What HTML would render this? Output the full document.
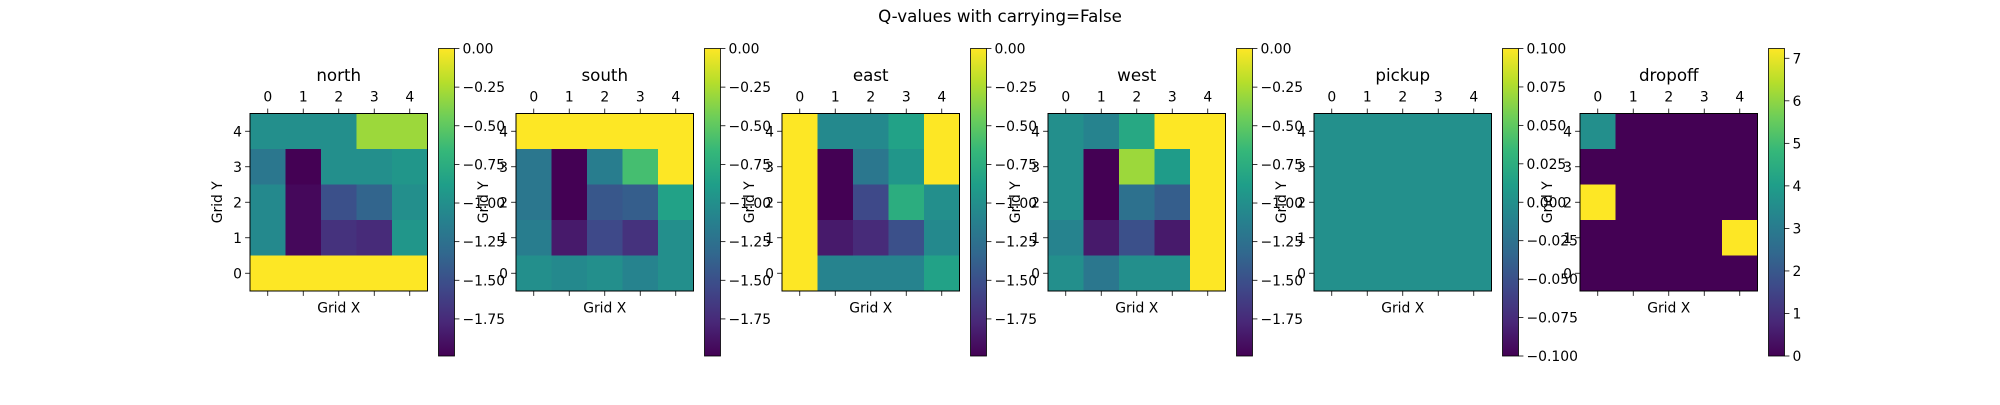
<!DOCTYPE html>
<html><head><meta charset="utf-8">
<style>
html,body{margin:0;padding:0;background:#fff;}
svg text{font-family:"DejaVu Sans","Liberation Sans",sans-serif;fill:#000;}
</style></head>
<body>
<svg id="fig" width="2000" height="400" viewBox="0 0 2000 400" xmlns="http://www.w3.org/2000/svg">
<rect width="2000" height="400" fill="#fff"/>
<text x="1000" y="22" font-size="16.7" text-anchor="middle">Q-values with carrying=False</text>
<defs id="defs"></defs>
</svg>
<script>
// Data: rows listed from Grid Y = 4 (top) down to Grid Y = 0
const panelTitles = ["north","south","east","west","pickup","dropoff"];
const gridTicks = [0,1,2,3,4];
const northVals = [
 [-1.0,-1.0,-1.0,-0.3,-0.3],
 [-1.2,-1.99,-1.0,-1.0,-0.95],
 [-1.05,-1.95,-1.5,-1.35,-1.0],
 [-1.05,-1.95,-1.7,-1.75,-0.95],
 [0,0,0,0,0]];
const southVals = [
 [0,0,0,0,0],
 [-1.2,-1.99,-1.15,-0.6,0],
 [-1.2,-1.99,-1.45,-1.4,-0.85],
 [-1.15,-1.85,-1.55,-1.7,-1.0],
 [-1.0,-1.05,-1.0,-1.1,-1.0]];
const eastVals = [
 [0,-1.05,-1.05,-0.85,0],
 [0,-1.99,-1.2,-0.95,0],
 [0,-1.99,-1.55,-0.75,-1.0],
 [0,-1.85,-1.75,-1.5,-1.05],
 [0,-1.1,-1.1,-1.1,-0.85]];
const westVals = [
 [-1.0,-1.1,-0.8,0,0],
 [-1.0,-1.99,-0.3,-0.9,0],
 [-1.0,-1.99,-1.25,-1.4,0],
 [-1.1,-1.85,-1.5,-1.85,0],
 [-1.0,-1.2,-1.0,-1.0,0]];
const pickupVals = [
 [0,0,0,0,0],[0,0,0,0,0],[0,0,0,0,0],[0,0,0,0,0],[0,0,0,0,0]];
const dropoffVals = [
 [3.6,0,0,0,0],
 [0,0,0,0,0],
 [7.23,0,0,0,0],
 [0,0,0,0,7.23],
 [0,0,0,0,0]];
const qTicks = [0,-0.25,-0.5,-0.75,-1.0,-1.25,-1.5,-1.75];
const qTickLabels = ["0.00","−0.25","−0.50","−0.75","−1.00","−1.25","−1.50","−1.75"];
const pickupTicks = [0.1,0.075,0.05,0.025,0,-0.025,-0.05,-0.075,-0.1];
const pickupTickLabels = ["0.100","0.075","0.050","0.025","0.000","−0.025","−0.050","−0.075","−0.100"];
const dropTicks = [0,1,2,3,4,5,6,7];
const dropTickLabels = ["0","1","2","3","4","5","6","7"];

const panels = [
 {vals:northVals,vmin:-1.99,vmax:0,ticks:qTicks,labels:qTickLabels},
 {vals:southVals,vmin:-1.99,vmax:0,ticks:qTicks,labels:qTickLabels},
 {vals:eastVals,vmin:-1.99,vmax:0,ticks:qTicks,labels:qTickLabels},
 {vals:westVals,vmin:-1.99,vmax:0,ticks:qTicks,labels:qTickLabels},
 {vals:pickupVals,vmin:-0.1,vmax:0.1,ticks:pickupTicks,labels:pickupTickLabels},
 {vals:dropoffVals,vmin:0,vmax:7.23,ticks:dropTicks,labels:dropTickLabels}
];

const VIR=["#440154","#482878","#3e4989","#31688e","#26828e","#1f9e89","#35b779","#6ece58","#b5de2b","#fde725"];
function hex(h){return [1,3,5].map(i=>parseInt(h.substr(i,2),16));}
function viridis(t){t=Math.max(0,Math.min(1,t));const p=t*(VIR.length-1);const i=Math.min(VIR.length-2,Math.floor(p));const f=p-i;const a=hex(VIR[i]),b=hex(VIR[i+1]);return "rgb("+a.map((v,k)=>Math.round(v+(b[k]-v)*f)).join(",")+")";}

const NS="http://www.w3.org/2000/svg";
const svg=document.getElementById('fig');
const defs=document.getElementById('defs');
function mk(tag,attrs,parent){const e=document.createElementNS(NS,tag);for(const k in attrs)e.setAttribute(k,attrs[k]);(parent||svg).appendChild(e);return e;}

const g=mk('linearGradient',{id:'vir',x1:0,y1:1,x2:0,y2:0},defs);
VIR.forEach((c,i)=>mk('stop',{offset:(i/(VIR.length-1)),'stop-color':c},g));

const AX_TOP=113.5, AX_SIZE=177.5, CB_TOP=48.5, CB_BOT=356, CB_W=16;
panels.forEach((p,pi)=>{
  const L=250+266*pi;
  const grp=mk('g',{});
  
  
  const cell=AX_SIZE/5;
  const xPos=i=>L+(i+0.5)*cell;
  const yPos=j=>AX_TOP+(4-j+0.5)*cell;
  p.vals.forEach((row,r)=>row.forEach((v,c)=>{
    const gy=4-r;
    const rc=mk('rect',{x:xPos(c)-cell/2,y:yPos(gy)-cell/2,width:cell+0.3,height:cell+0.3,fill:viridis((v-p.vmin)/(p.vmax-p.vmin))},grp);
    
    
  }));
  const fr=mk('rect',{x:L,y:AX_TOP,width:AX_SIZE,height:AX_SIZE,fill:'none',stroke:'#000','stroke-width':1},grp);
  
  
  gridTicks.forEach(t=>{
    mk('line',{x1:xPos(t),x2:xPos(t),y1:AX_TOP,y2:AX_TOP-4.9,stroke:'#000','stroke-width':0.8},grp);
    mk('line',{x1:xPos(t),x2:xPos(t),y1:AX_TOP+AX_SIZE,y2:AX_TOP+AX_SIZE+4.9,stroke:'#000','stroke-width':0.8},grp);
    const tx=mk('text',{x:xPos(t),y:AX_TOP-12,'font-size':13.9,'text-anchor':'middle'},grp);tx.textContent=t;
    
    
    mk('line',{x1:L,x2:L-4.9,y1:yPos(t),y2:yPos(t),stroke:'#000','stroke-width':0.8},grp);
    const ty=mk('text',{x:L-8,y:yPos(t)+5,'font-size':13.9,'text-anchor':'end'},grp);ty.textContent=t;
    
    
  });
  const ti=mk('text',{x:L+AX_SIZE/2,y:81,'font-size':16.7,'text-anchor':'middle'},grp);ti.textContent=panelTitles[pi];
  
  
  const xl=mk('text',{x:L+AX_SIZE/2,y:312.5,'font-size':13.9,'text-anchor':'middle'},grp);xl.textContent='Grid X';
  
  
  const yl=mk('text',{x:0,y:0,'font-size':13.9,'text-anchor':'middle',transform:'translate('+(L-28)+','+(AX_TOP+AX_SIZE/2)+') rotate(-90)'},grp);yl.textContent='Grid Y';
  
  
  const cx=L+188.5;
  const cb=mk('rect',{x:cx,y:CB_TOP,width:CB_W,height:CB_BOT-CB_TOP,fill:'url(#vir)',stroke:'#000','stroke-width':0.8},grp);
  
  
  const cbY=v=>CB_BOT-(v-p.vmin)/(p.vmax-p.vmin)*(CB_BOT-CB_TOP);
  p.ticks.forEach((t,k)=>{
    const y=cbY(t);
    mk('line',{x1:cx+CB_W,x2:cx+CB_W+4.9,y1:y,y2:y,stroke:'#000','stroke-width':0.8},grp);
    const tl=mk('text',{x:cx+CB_W+8,y:y+5,'font-size':13.9},grp);tl.textContent=p.labels[k];
    
    
  });
});
</script>
</body></html>
